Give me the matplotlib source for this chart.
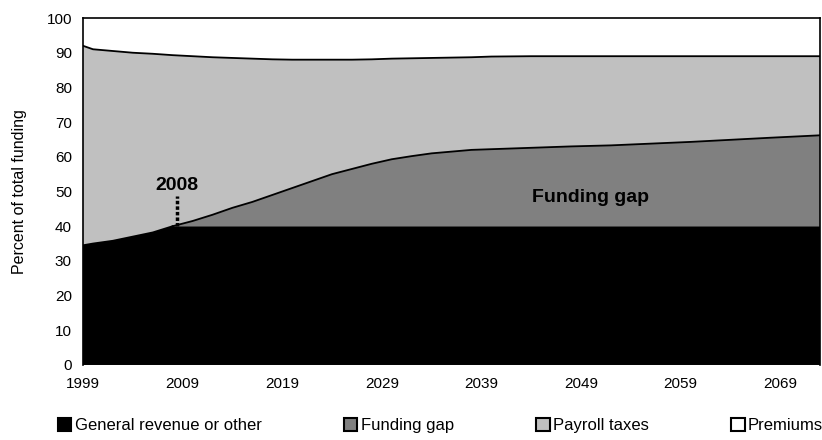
import matplotlib
matplotlib.use('Agg')
import matplotlib.pyplot as plt
from matplotlib.patches import Patch
import numpy as np

plt.rcParams['font.family'] = ['Liberation Sans', 'DejaVu Sans']

# shares of total funding (percent)
years = [1999, 2000, 2002, 2004, 2006, 2008, 2010, 2012, 2014, 2016, 2018, 2020,
         2022, 2024, 2026, 2028, 2030, 2032, 2034, 2036, 2038, 2040, 2044, 2048,
         2052, 2056, 2060, 2064, 2068, 2073]
general = [34.5, 35, 35.8, 37, 38.2, 40, 40, 40, 40, 40, 40, 40,
           40, 40, 40, 40, 40, 40, 40, 40, 40, 40, 40, 40,
           40, 40, 40, 40, 40, 40]
gap = [0, 0, 0, 0, 0, 0, 1.5, 3.3, 5.3, 7, 9, 11,
       13, 15, 16.5, 18, 19.3, 20.2, 21, 21.5, 22, 22.2, 22.6, 23,
       23.3, 23.8, 24.3, 24.9, 25.5, 26.2]
payroll = [57.5, 56, 54.7, 53, 51.5, 49.3, 47.5, 45.4, 43.2, 41.3, 39.1, 37,
           35, 33, 31.5, 30.1, 29, 28.2, 27.5, 27.1, 26.7, 26.7, 26.4, 26,
           25.7, 25.2, 24.7, 24.1, 23.5, 22.8]
premiums = [8, 9, 9.5, 10, 10.3, 10.7, 11, 11.3, 11.5, 11.7, 11.9, 12,
            12, 12, 12, 11.9, 11.7, 11.6, 11.5, 11.4, 11.3, 11.1, 11, 11,
            11, 11, 11, 11, 11, 11]
labels = ['General revenue or other', 'Funding gap', 'Payroll taxes', 'Premiums']
colors = ['#000000', '#808080', '#c0c0c0', '#ffffff']
xticks = [1999, 2009, 2019, 2029, 2039, 2049, 2059, 2069]

fig = plt.figure(figsize=(8.22, 4.40), dpi=100)
ax = fig.add_axes([0.101, 0.1705, 0.8966, 0.7885])

ax.stackplot(years, general, gap, payroll, premiums, colors=colors, linewidth=0)

# boundary lines
y1 = np.array(general)
y2 = y1 + np.array(gap)
y3 = y2 + np.array(payroll)
i08 = years.index(2008)
ax.plot(years[:i08 + 1], y1[:i08 + 1], color='black', lw=1.3)
ax.plot(years[i08:], y2[i08:], color='black', lw=1.3)
ax.plot(years, y3, color='black', lw=1.3)

ax.set_xlim(1999, 2073)
ax.set_ylim(0, 100)
ax.set_yticks(range(0, 101, 10))
ax.set_xticks(xticks)
ax.tick_params(length=0, labelsize=11)
ax.tick_params(axis='y', pad=8)
ax.tick_params(axis='x', pad=9)
ax.set_ylabel('Percent of total funding', fontsize=11.5, labelpad=14)
for s in ax.spines.values():
    s.set_linewidth(1.2)
ax.spines['bottom'].set_visible(False)

# annotations
ax.plot([2008.4, 2008.4], [40, 48.8], color='black', lw=2.5, ls=(0, (1, 0.6)))
ax.text(2008.4, 49.3, '2008', ha='center', va='bottom', fontsize=14, fontweight='bold')
ax.text(2050, 48.2, 'Funding gap', ha='center', va='center', fontsize=14, fontweight='bold')

handles = [Patch(facecolor=c, edgecolor='black', linewidth=1.5) for c in colors]
fig.legend(handles, labels, loc='lower center', bbox_to_anchor=(0.536, -0.018), ncol=4,
           frameon=False, fontsize=12, handlelength=0.8, handleheight=0.8,
           handletextpad=0.2, columnspacing=4.95)

fig.savefig('out.png', dpi=100)
